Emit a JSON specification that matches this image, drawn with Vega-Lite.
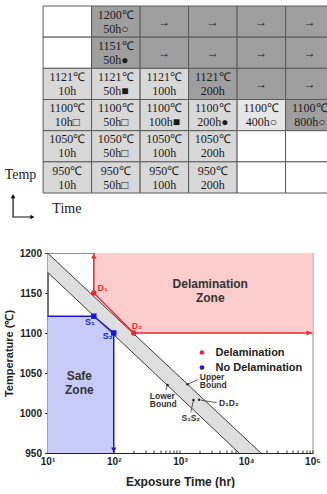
{
  "$schema": "https://vega.github.io/schema/vega-lite/v6.json",
  "padding": {"left": 2.5, "top": 5, "right": 0, "bottom": 0},
  "spacing": 27,
  "config": {"font": "Liberation Sans", "view": {"stroke": null}},
  "resolve": {"legend": {"color": "independent"}},
  "datasets": {
    "cells": [
      {"c0":0,"c1":1,"r0":0,"r1":1,"cx":0.5,"cy":0.5,"label":"","shade":"white"},
      {"c0":1,"c1":2,"r0":0,"r1":1,"cx":1.5,"cy":0.28,"label":"1200℃\n50h○","shade":"dark"},
      {"c0":2,"c1":3,"r0":0,"r1":1,"cx":2.5,"cy":0.5,"label":"→","shade":"dark"},
      {"c0":3,"c1":4,"r0":0,"r1":1,"cx":3.5,"cy":0.5,"label":"→","shade":"dark"},
      {"c0":4,"c1":5,"r0":0,"r1":1,"cx":4.5,"cy":0.5,"label":"→","shade":"dark"},
      {"c0":5,"c1":5.864,"r0":0,"r1":1,"cx":5.5,"cy":0.5,"label":"→","shade":"dark"},
      {"c0":0,"c1":1,"r0":1,"r1":2,"cx":0.5,"cy":1.5,"label":"","shade":"white"},
      {"c0":1,"c1":2,"r0":1,"r1":2,"cx":1.5,"cy":1.28,"label":"1151℃\n50h●","shade":"dark"},
      {"c0":2,"c1":3,"r0":1,"r1":2,"cx":2.5,"cy":1.5,"label":"→","shade":"dark"},
      {"c0":3,"c1":4,"r0":1,"r1":2,"cx":3.5,"cy":1.5,"label":"→","shade":"dark"},
      {"c0":4,"c1":5,"r0":1,"r1":2,"cx":4.5,"cy":1.5,"label":"→","shade":"dark"},
      {"c0":5,"c1":5.864,"r0":1,"r1":2,"cx":5.5,"cy":1.5,"label":"→","shade":"dark"},
      {"c0":0,"c1":1,"r0":2,"r1":3,"cx":0.5,"cy":2.28,"label":"1121℃\n10h","shade":"light"},
      {"c0":1,"c1":2,"r0":2,"r1":3,"cx":1.5,"cy":2.28,"label":"1121℃\n50h■","shade":"light"},
      {"c0":2,"c1":3,"r0":2,"r1":3,"cx":2.5,"cy":2.28,"label":"1121℃\n100h","shade":"light"},
      {"c0":3,"c1":4,"r0":2,"r1":3,"cx":3.5,"cy":2.28,"label":"1121℃\n200h","shade":"dark"},
      {"c0":4,"c1":5,"r0":2,"r1":3,"cx":4.5,"cy":2.5,"label":"→","shade":"dark"},
      {"c0":5,"c1":5.864,"r0":2,"r1":3,"cx":5.5,"cy":2.5,"label":"→","shade":"dark"},
      {"c0":0,"c1":1,"r0":3,"r1":4,"cx":0.5,"cy":3.28,"label":"1100℃\n10h□","shade":"light"},
      {"c0":1,"c1":2,"r0":3,"r1":4,"cx":1.5,"cy":3.28,"label":"1100℃\n50h□","shade":"light"},
      {"c0":2,"c1":3,"r0":3,"r1":4,"cx":2.5,"cy":3.28,"label":"1100℃\n100h■","shade":"light"},
      {"c0":3,"c1":4,"r0":3,"r1":4,"cx":3.5,"cy":3.28,"label":"1100℃\n200h●","shade":"light"},
      {"c0":4,"c1":5,"r0":3,"r1":4,"cx":4.5,"cy":3.28,"label":"1100℃\n400h○","shade":"lighter"},
      {"c0":5,"c1":5.864,"r0":3,"r1":4,"cx":5.5,"cy":3.28,"label":"1100℃\n800h○","shade":"dark"},
      {"c0":0,"c1":1,"r0":4,"r1":5,"cx":0.5,"cy":4.28,"label":"1050℃\n10h","shade":"light"},
      {"c0":1,"c1":2,"r0":4,"r1":5,"cx":1.5,"cy":4.28,"label":"1050℃\n50h□","shade":"light"},
      {"c0":2,"c1":3,"r0":4,"r1":5,"cx":2.5,"cy":4.28,"label":"1050℃\n100h","shade":"light"},
      {"c0":3,"c1":4,"r0":4,"r1":5,"cx":3.5,"cy":4.28,"label":"1050℃\n200h","shade":"light"},
      {"c0":4,"c1":5,"r0":4,"r1":5,"cx":4.5,"cy":4.5,"label":"","shade":"white"},
      {"c0":5,"c1":5.864,"r0":4,"r1":5,"cx":5.5,"cy":4.5,"label":"","shade":"white"},
      {"c0":0,"c1":1,"r0":5,"r1":6,"cx":0.5,"cy":5.28,"label":"950℃\n10h","shade":"light"},
      {"c0":1,"c1":2,"r0":5,"r1":6,"cx":1.5,"cy":5.28,"label":"950℃\n50h□","shade":"light"},
      {"c0":2,"c1":3,"r0":5,"r1":6,"cx":2.5,"cy":5.28,"label":"950℃\n100h","shade":"light"},
      {"c0":3,"c1":4,"r0":5,"r1":6,"cx":3.5,"cy":5.28,"label":"950℃\n200h","shade":"light"},
      {"c0":4,"c1":5,"r0":5,"r1":6,"cx":4.5,"cy":5.5,"label":"","shade":"white"},
      {"c0":5,"c1":5.864,"r0":5,"r1":6,"cx":5.5,"cy":5.5,"label":"","shade":"white"}
    ],
    "axisnotes": [
      {"cx": -0.466, "cy": 5.43, "label": "Temp"},
      {"cx": 0.49, "cy": 6.5, "label": "Time"}
    ],
    "tarrow": [
      {"cx": -0.619, "cy": 6.12, "o": 1},
      {"cx": -0.619, "cy": 6.77, "o": 2},
      {"cx": -0.24, "cy": 6.77, "o": 3}
    ],
    "theads": [
      {"cx": -0.619, "cy": 6.1, "dir": "up"},
      {"cx": -0.22, "cy": 6.77, "dir": "right"}
    ],
    "pink": [
      {"t": 50, "temp": 1150},
      {"t": 200, "temp": 1100},
      {"t": 100000, "temp": 1100}
    ],
    "blue": [
      {"t": 10, "temp": 1121},
      {"t": 50, "temp": 1121},
      {"t": 100, "temp": 1100}
    ],
    "band": [
      {"t": 10, "temp": 1176, "temp2": 1200},
      {"t": 7800, "temp": 950, "temp2": 975.5},
      {"t": 16600, "temp": 950, "temp2": 950}
    ],
    "edges": [
      {"t": 10, "temp": 1200, "edge": "upper"},
      {"t": 16600, "temp": 950, "edge": "upper"},
      {"t": 10, "temp": 1176, "edge": "lower"},
      {"t": 7800, "temp": 950, "edge": "lower"}
    ],
    "redpath": [
      {"t": 50, "temp": 1200, "o": 1},
      {"t": 50, "temp": 1150, "o": 2},
      {"t": 200, "temp": 1100, "o": 3},
      {"t": 100000, "temp": 1100, "o": 4}
    ],
    "bluepath": [
      {"t": 10, "temp": 1121, "o": 1},
      {"t": 50, "temp": 1121, "o": 2},
      {"t": 100, "temp": 1100, "o": 3},
      {"t": 100, "temp": 950, "o": 4}
    ],
    "arrowheads": [
      {"t": 50, "temp": 1196, "dir": "up"},
      {"t": 88500, "temp": 1100, "dir": "right"},
      {"t": 100, "temp": 954, "dir": "down"}
    ],
    "points": [
      {"t": 50, "temp": 1150, "result": "Delamination"},
      {"t": 200, "temp": 1100, "result": "Delamination"},
      {"t": 50, "temp": 1121, "result": "No Delamination"},
      {"t": 100, "temp": 1100, "result": "No Delamination"}
    ],
    "ptlab": [
      {"t": 56.9, "temp": 1155.7, "label": "D₁", "grp": "D"},
      {"t": 187, "temp": 1109, "label": "D₂", "grp": "D"},
      {"t": 36.9, "temp": 1113.3, "label": "S₁", "grp": "S"},
      {"t": 68.3, "temp": 1095.8, "label": "S₂", "grp": "S"}
    ],
    "zones": [
      {"t": 2864, "temp": 1161.6, "label": "Delamination\nZone"},
      {"t": 30.2, "temp": 1046.6, "label": "Safe\nZone"}
    ],
    "anndots": [
      {"t": 1298, "temp": 1036},
      {"t": 648, "temp": 1035},
      {"t": 1599, "temp": 1016.3},
      {"t": 1943, "temp": 1016.6}
    ],
    "leaders": [
      {"t": 1298, "temp": 1036, "t2": 1857, "temp2": 1041.6},
      {"t": 648, "temp": 1035, "t2": 610, "temp2": 1028.5},
      {"t": 2061, "temp": 1016, "t2": 3594, "temp2": 1012.9},
      {"t": 1599, "temp": 1016.3, "t2": 1455, "temp2": 1001}
    ],
    "annlab": [
      {"t": 1991, "temp": 1045.4, "label": "Upper\nBound"},
      {"t": 350, "temp": 1021.6, "label": "Lower\nBound"},
      {"t": 3890, "temp": 1012.5, "label": "D₁D₂"},
      {"t": 1054, "temp": 994.1, "label": "S₁S₂"}
    ]
  },
  "vconcat": [
    {
      "width": 280,
      "height": 187,
      "view": {"stroke": null},
      "encoding": {
        "x": {"type": "quantitative", "scale": {"domain": [0.0907, 5.864], "nice": false, "zero": false}, "axis": null},
        "y": {"type": "quantitative", "scale": {"domain": [0, 6], "nice": false, "zero": false, "reverse": true}, "axis": null}
      },
      "layer": [
        {
          "data": {"name": "cells"},
          "mark": {"type": "rect", "stroke": "#5a5a5a", "strokeWidth": 1},
          "encoding": {
            "x": {"field": "c0", "type": "quantitative"},
            "x2": {"field": "c1"},
            "y": {"field": "r0", "type": "quantitative"},
            "y2": {"field": "r1"},
            "fill": {"field": "shade", "type": "nominal", "scale": {"domain": ["dark", "light", "lighter", "white"], "range": ["#9f9f9f", "#d8d8d8", "#e6e6e6", "#ffffff"]}, "legend": null}
          }
        },
        {
          "data": {"name": "cells"},
          "mark": {"type": "text", "font": "Liberation Serif", "fontSize": 12, "lineBreak": "\n", "lineHeight": 14, "baseline": "middle", "align": "center", "clip": true, "color": "#1a1a1a"},
          "encoding": {
            "x": {"field": "cx", "type": "quantitative"},
            "y": {"field": "cy", "type": "quantitative"},
            "text": {"field": "label", "type": "nominal"}
          }
        },
        {
          "data": {"name": "axisnotes"},
          "mark": {"type": "text", "font": "Liberation Serif", "fontSize": 14, "baseline": "middle", "align": "center", "color": "#1a1a1a"},
          "encoding": {
            "x": {"field": "cx", "type": "quantitative"},
            "y": {"field": "cy", "type": "quantitative"},
            "text": {"field": "label", "type": "nominal"}
          }
        },
        {
          "data": {"name": "tarrow"},
          "mark": {"type": "line", "color": "#111", "strokeWidth": 1.2},
          "encoding": {
            "x": {"field": "cx", "type": "quantitative"},
            "y": {"field": "cy", "type": "quantitative"},
            "order": {"field": "o", "type": "quantitative"}
          }
        },
        {
          "data": {"name": "theads"},
          "transform": [{"filter": "datum.dir === 'up'"}],
          "mark": {"type": "point", "shape": "triangle-up", "filled": true, "color": "#111", "size": 22, "opacity": 1},
          "encoding": {
            "x": {"field": "cx", "type": "quantitative"},
            "y": {"field": "cy", "type": "quantitative"}
          }
        },
        {
          "data": {"name": "theads"},
          "transform": [{"filter": "datum.dir === 'right'"}],
          "mark": {"type": "point", "shape": "triangle-right", "filled": true, "color": "#111", "size": 22, "opacity": 1},
          "encoding": {
            "x": {"field": "cx", "type": "quantitative"},
            "y": {"field": "cy", "type": "quantitative"}
          }
        }
      ]
    },
    {
      "width": 265,
      "height": 200,
      "view": {"stroke": "#8a8a8a"},
      "encoding": {
        "x": {
          "field": "t", "type": "quantitative",
          "scale": {"type": "log", "domain": [10, 100000], "nice": false},
          "axis": {
            "values": [10,20,30,40,50,60,70,80,90,100,200,300,400,500,600,700,800,900,1000,2000,3000,4000,5000,6000,7000,8000,9000,10000,20000,30000,40000,50000,60000,70000,80000,90000,100000],
            "labelExpr": "datum.value === 10 ? '10¹' : datum.value === 100 ? '10²' : datum.value === 1000 ? '10³' : datum.value === 10000 ? '10⁴' : datum.value === 100000 ? '10⁵' : ''",
            "title": "Exposure Time (hr)", "titleFontSize": 12, "titleFontWeight": "bold", "titleColor": "#222", "titlePadding": 10,
            "labelFontSize": 10, "labelFontWeight": "bold", "labelColor": "#222", "labelPadding": 6, "labelBaseline": "top",
            "tickSize": -3, "tickColor": "#333", "domainColor": "#222", "grid": false, "labelFlush": false, "labelOverlap": false
          }
        },
        "y": {
          "field": "temp", "type": "quantitative",
          "scale": {"domain": [950, 1200], "nice": false, "zero": false},
          "axis": {
            "values": [950, 1000, 1050, 1100, 1150, 1200],
            "format": "d",
            "title": "Temperature (℃)", "titleFontSize": 11, "titleFontWeight": "bold", "titleColor": "#222", "titlePadding": 5,
            "labelFontSize": 10, "labelFontWeight": "bold", "labelColor": "#222", "labelPadding": 3,
            "tickSize": 3, "tickColor": "#333", "domainColor": "#222", "grid": false, "labelFlush": false, "labelOverlap": false
          }
        }
      },
      "layer": [
        {
          "data": {"name": "pink"},
          "mark": {"type": "area", "color": "#fbcdcd", "opacity": 1},
          "encoding": {"y2": {"datum": 1200}}
        },
        {
          "data": {"name": "blue"},
          "mark": {"type": "area", "color": "#c8cbf7", "opacity": 1},
          "encoding": {"y2": {"datum": 950}}
        },
        {
          "data": {"name": "band"},
          "mark": {"type": "area", "color": "#dedede", "opacity": 1},
          "encoding": {"y2": {"field": "temp2"}}
        },
        {
          "data": {"name": "edges"},
          "mark": {"type": "line", "color": "#3a3a3a", "strokeWidth": 1},
          "encoding": {"detail": {"field": "edge", "type": "nominal"}}
        },
        {
          "data": {"name": "redpath"},
          "mark": {"type": "line", "color": "#e52b35", "strokeWidth": 1.5},
          "encoding": {"order": {"field": "o", "type": "quantitative"}}
        },
        {
          "data": {"name": "bluepath"},
          "mark": {"type": "line", "color": "#1a1ad0", "strokeWidth": 1.5},
          "encoding": {"order": {"field": "o", "type": "quantitative"}}
        },
        {
          "data": {"name": "arrowheads"},
          "transform": [{"filter": "datum.dir === 'up'"}],
          "mark": {"type": "point", "shape": "triangle-up", "filled": true, "color": "#e52b35", "size": 30, "opacity": 1}
        },
        {
          "data": {"name": "arrowheads"},
          "transform": [{"filter": "datum.dir === 'right'"}],
          "mark": {"type": "point", "shape": "triangle-right", "filled": true, "color": "#e52b35", "size": 30, "opacity": 1}
        },
        {
          "data": {"name": "arrowheads"},
          "transform": [{"filter": "datum.dir === 'down'"}],
          "mark": {"type": "point", "shape": "triangle-down", "filled": true, "color": "#1a1ad0", "size": 30, "opacity": 1}
        },
        {
          "data": {"name": "points"},
          "mark": {"type": "point", "filled": true, "size": 30, "opacity": 1},
          "encoding": {
            "color": {
              "field": "result", "type": "nominal",
              "scale": {"domain": ["Delamination", "No Delamination"], "range": ["#e52b35", "#1a1ad0"]},
              "legend": {
                "title": null, "orient": "none", "legendX": 149, "legendY": 94,
                "labelFontSize": 11, "labelFontWeight": "bold", "labelColor": "#222",
                "symbolSize": 22, "rowPadding": 3, "labelOffset": 8, "padding": 0,
                "encode": {"symbols": {"update": {"shape": {"signal": "datum.value === 'No Delamination' ? 'square' : 'circle'"}}}}
              }
            },
            "shape": {
              "field": "result", "type": "nominal",
              "scale": {"domain": ["Delamination", "No Delamination"], "range": ["circle", "square"]},
              "legend": null
            }
          }
        },
        {
          "data": {"name": "ptlab"},
          "transform": [{"filter": "datum.grp === 'D'"}],
          "mark": {"type": "text", "align": "left", "baseline": "middle", "fontSize": 9, "fontWeight": "bold", "color": "#e52b35"},
          "encoding": {"text": {"field": "label", "type": "nominal"}}
        },
        {
          "data": {"name": "ptlab"},
          "transform": [{"filter": "datum.grp === 'S'"}],
          "mark": {"type": "text", "align": "left", "baseline": "middle", "fontSize": 9, "fontWeight": "bold", "color": "#1a1ad0"},
          "encoding": {"text": {"field": "label", "type": "nominal"}}
        },
        {
          "data": {"name": "zones"},
          "mark": {"type": "text", "align": "center", "baseline": "middle", "fontSize": 12, "fontWeight": "bold", "color": "#333", "lineBreak": "\n", "lineHeight": 14.5},
          "encoding": {"text": {"field": "label", "type": "nominal"}}
        },
        {
          "data": {"name": "leaders"},
          "mark": {"type": "rule", "color": "#333", "strokeWidth": 0.8},
          "encoding": {"x2": {"field": "t2"}, "y2": {"field": "temp2"}}
        },
        {
          "data": {"name": "anndots"},
          "mark": {"type": "circle", "color": "#222", "size": 6, "opacity": 1}
        },
        {
          "data": {"name": "annlab"},
          "mark": {"type": "text", "align": "left", "baseline": "middle", "fontSize": 8.5, "fontWeight": "bold", "color": "#333", "lineBreak": "\n", "lineHeight": 8.5},
          "encoding": {"text": {"field": "label", "type": "nominal"}}
        }
      ]
    }
  ]
}
